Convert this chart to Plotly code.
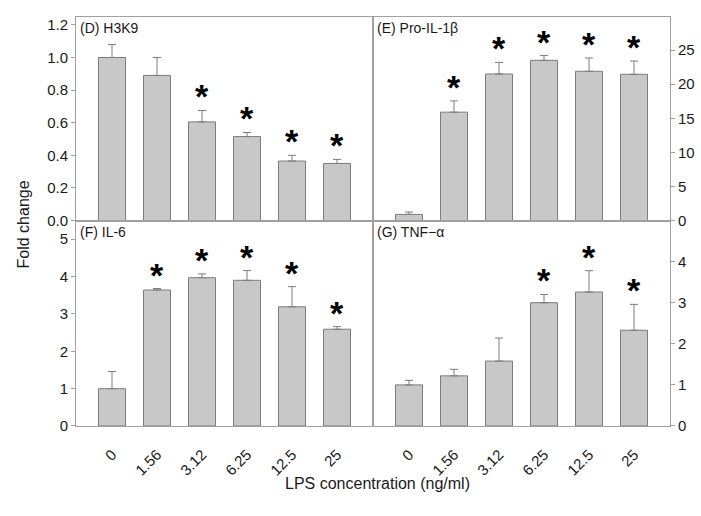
import plotly.graph_objects as go

# ---------------- data ----------------
categories = ["0", "1.56", "3.12", "6.25", "12.5", "25"]

h3k9 = [1.0, 0.89, 0.605, 0.515, 0.365, 0.35]
h3k9_err = [0.08, 0.11, 0.07, 0.025, 0.035, 0.025]
h3k9_sig = [False, False, True, True, True, True]

il1b = [0.9, 15.9, 21.5, 23.5, 21.9, 21.45]
il1b_err = [0.35, 1.65, 1.7, 0.7, 1.95, 1.95]
il1b_sig = [False, True, True, True, True, True]

il6 = [1.0, 3.64, 3.97, 3.9, 3.19, 2.59]
il6_err = [0.46, 0.04, 0.1, 0.26, 0.54, 0.07]
il6_sig = [False, True, True, True, True, True]

tnf = [1.0, 1.22, 1.58, 3.0, 3.26, 2.33]
tnf_err = [0.11, 0.16, 0.56, 0.2, 0.52, 0.63]
tnf_sig = [False, False, False, True, True, True]

panel_titles = ["(D) H3K9", "(E) Pro-IL-1β", "(F) IL-6", "(G) TNF−α"]
y_title = "Fold change"
x_title = "LPS concentration (ng/ml)"

# ---------------- styling / layout ----------------
PW, PH = 701, 516
X_L, X_M, X_R = 76, 373, 670
Y_T, Y_M, Y_B = 17, 224, 432.7

def xd(a, b):
    return [a / PW, b / PW]

def yd(top, bottom):
    return [(PH - bottom) / PH, (PH - top) / PH]

BAR_FILL = "#c8c8c8"
BAR_EDGE = "#7c7c7c"
LINE = "#a0a0a0"
FONT = "Liberation Sans, Arial, sans-serif"

panels = [
    dict(vals=h3k9, err=h3k9_err, sig=h3k9_sig, xa="x", ya="y",
         xdom=xd(X_L, X_M), ydom=yd(Y_T, Y_M), yrange=[0, 1.25],
         side="left", tickvals=[0, 0.2, 0.4, 0.6, 0.8, 1.0, 1.2], fmt=".1f", bottom=False),
    dict(vals=il1b, err=il1b_err, sig=il1b_sig, xa="x2", ya="y2",
         xdom=xd(X_M, X_R), ydom=yd(Y_T, Y_M), yrange=[0, 29.9],
         side="right", tickvals=[0, 5, 10, 15, 20, 25], fmt="d", bottom=False),
    dict(vals=il6, err=il6_err, sig=il6_sig, xa="x3", ya="y3",
         xdom=xd(X_L, X_M), ydom=yd(Y_M, Y_B), yrange=[0, 5.5],
         side="left", tickvals=[0, 1, 2, 3, 4, 5], fmt="d", bottom=True),
    dict(vals=tnf, err=tnf_err, sig=tnf_sig, xa="x4", ya="y4",
         xdom=xd(X_M, X_R), ydom=yd(Y_M, Y_B), yrange=[0, 5.0],
         side="right", tickvals=[0, 1, 2, 3, 4], fmt="d", bottom=True),
]

fig = go.Figure()
idx = list(range(len(categories)))

layout = dict(
    width=PW, height=PH,
    margin=dict(l=0, r=0, t=0, b=0),
    paper_bgcolor="white", plot_bgcolor="white",
    showlegend=False,
    font=dict(family=FONT, size=15, color="#1a1a1a"),
    annotations=[],
)

for i, p in enumerate(panels):
    fig.add_trace(go.Bar(
        x=idx, y=p["vals"], width=0.6,
        marker=dict(color=BAR_FILL, line=dict(color=BAR_EDGE, width=1)),
        error_y=dict(type="data", array=p["err"], arrayminus=[0] * len(p["err"]),
                     symmetric=False, color=BAR_EDGE, thickness=1, width=4),
        xaxis=p["xa"], yaxis=p["ya"], hoverinfo="skip",
    ))
    tops = [v + e for v, e in zip(p["vals"], p["err"])]
    for k, (t, s) in enumerate(zip(tops, p["sig"])):
        if s:
            layout["annotations"].append(dict(
                text="<b>*</b>", x=k, y=t, xref=p["xa"], yref=p["ya"],
                xanchor="center", yanchor="bottom", yshift=-7,
                showarrow=False, font=dict(family=FONT, size=34, color="black"),
            ))

    xkey = "xaxis" + ("" if i == 0 else str(i + 1))
    ykey = "yaxis" + ("" if i == 0 else str(i + 1))
    layout[xkey] = dict(
        domain=p["xdom"], anchor=p["ya"], range=[-0.8, 5.8],
        tickmode="array", tickvals=idx, ticktext=categories,
        showticklabels=p["bottom"], tickangle=-45, ticks="",
        ticklabelstandoff=13,
        showline=True, linecolor=LINE, linewidth=1, mirror=True,
        showgrid=False, zeroline=False, fixedrange=True,
        tickfont=dict(size=15),
    )
    layout[ykey] = dict(
        domain=p["ydom"], anchor=p["xa"], range=p["yrange"], side=p["side"],
        tickmode="array", tickvals=p["tickvals"], tickformat=p["fmt"],
        ticks="outside", ticklen=4, tickcolor=LINE,
        showline=True, linecolor=LINE, linewidth=1, mirror=True,
        showgrid=False, zeroline=False, fixedrange=True,
        tickfont=dict(size=15),
    )
    layout["annotations"].append(dict(
        text=panel_titles[i], xref=p["xa"] + " domain", yref=p["ya"] + " domain",
        x=0, y=1, xanchor="left", yanchor="top", xshift=2, yshift=-1,
        showarrow=False, font=dict(size=14, color="#1a1a1a"),
    ))

layout["annotations"].append(dict(
    text=y_title, xref="paper", yref="paper", x=23 / PW, y=(PH - 228) / PH,
    xanchor="center", yanchor="middle",
    textangle=-90, showarrow=False, font=dict(size=16),
))
layout["annotations"].append(dict(
    text=x_title, xref="paper", yref="paper", x=377 / PW, y=(PH - 491) / PH,
    xanchor="center", yanchor="middle",
    showarrow=False, font=dict(size=16),
))

fig.update_layout(**layout)
fig.write_html("out.html")
